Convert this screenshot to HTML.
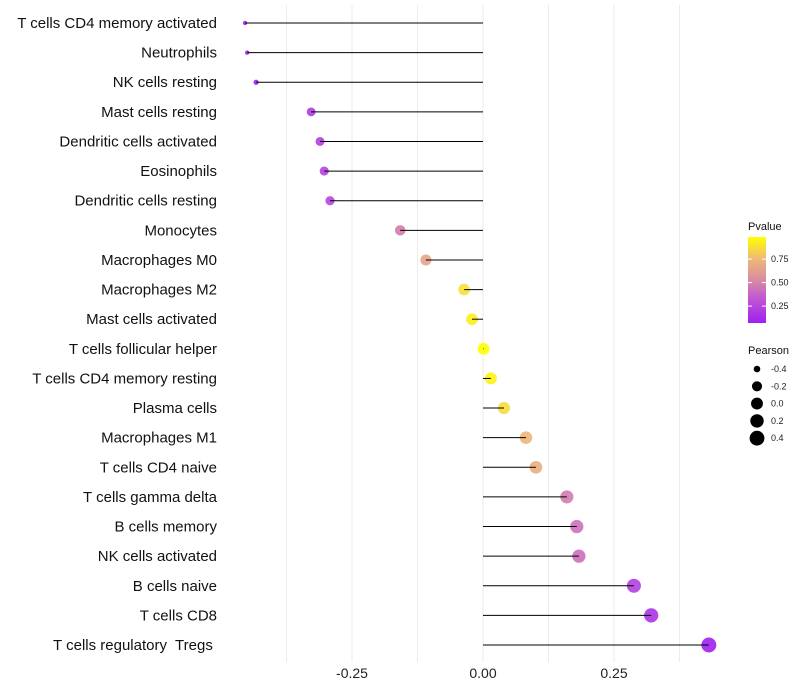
<!DOCTYPE html>
<html><head><meta charset="utf-8"><style>
html,body{margin:0;padding:0;background:#fff;}
svg{display:block;font-family:"Liberation Sans",sans-serif;}
text{white-space:pre;}
</style></head><body>
<svg id="chart" width="800" height="700"></svg>
<script>
const categories=["T cells CD4 memory activated","Neutrophils","NK cells resting","Mast cells resting","Dendritic cells activated","Eosinophils","Dendritic cells resting","Monocytes","Macrophages M0","Macrophages M2","Mast cells activated","T cells follicular helper","T cells CD4 memory resting","Plasma cells","Macrophages M1","T cells CD4 naive","T cells gamma delta","B cells memory","NK cells activated","B cells naive","T cells CD8","T cells regulatory  Tregs "];
const pearson=[-0.454,-0.450,-0.433,-0.328,-0.311,-0.303,-0.292,-0.158,-0.109,-0.036,-0.021,0.001,0.015,0.040,0.082,0.101,0.160,0.179,0.183,0.288,0.321,0.431];
const pvalue=[0.03,0.04,0.06,0.2,0.22,0.23,0.25,0.47,0.65,0.88,0.93,0.99,0.95,0.87,0.74,0.7,0.47,0.43,0.42,0.22,0.16,0.05];
const xTicks=[-0.25,0,0.25];
const xTickLabels=["-0.25","0.00","0.25"];
const pTicks=[0.25,0.5,0.75];
const pTickLabels=["0.25","0.50","0.75"];
const sizeBreaks=[-0.4,-0.2,0,0.2,0.4];
const sizeLabels=["-0.4","-0.2","0.0","0.2","0.4"];

const NS="http://www.w3.org/2000/svg";
const svg=document.getElementById('chart');
function mk(t,a,p){const e=document.createElementNS(NS,t);for(const k in a)e.setAttribute(k,a[k]);(p||svg).appendChild(e);return e;}
const x=v=>483+v*524;
const y=i=>23+i*(622/21);
const pMin=0.07,pMax=0.985;
const stops=[[0,[160,32,240]],[0.3,[194,90,208]],[0.5,[216,140,160]],[0.75,[240,185,118]],[1,[255,255,0]]];
function col(p){let t=Math.max(0,Math.min(1,(p-pMin)/(pMax-pMin)));for(let i=1;i<stops.length;i++){if(t<=stops[i][0]){const a=stops[i-1],b=stops[i],f=(t-a[0])/(b[0]-a[0]);return 'rgb('+a[1].map((c,j)=>Math.round(c+(b[1][j]-c)*f)).join(',')+')';}}return 'rgb(255,255,0)';}
function rad(v){let area=v<-0.33?Math.max(4,16+100*(v+0.33)):16+40*(v+0.33);return 1.1*Math.sqrt(area);}

[-0.375,-0.25,-0.125,0,0.125,0.25,0.375].forEach(v=>{
 const g=mk('line',{x1:x(v),x2:x(v),y1:5,y2:662,stroke:'#ebebeb','stroke-width':1});
 
 
});
xTicks.forEach((v,i)=>{
 const t=mk('text',{x:x(v),y:678,'text-anchor':'middle','font-size':14,fill:'#222'});
 t.textContent=xTickLabels[i];
 
 
});
categories.forEach((c,i)=>{
 const t=mk('text',{x:217,y:y(i)+5,'text-anchor':'end','font-size':15,fill:'#111'});
 t.textContent=c;
 
 
 const d=mk('circle',{cx:x(pearson[i]),cy:y(i),r:rad(pearson[i]),fill:col(pvalue[i]),'fill-opacity':0.9});
 
 
 const l=mk('line',{x1:x(0),x2:x(pearson[i]),y1:y(i),y2:y(i),stroke:'#000','stroke-width':1});
 
 
});
const lg=mk('g',{});


const lt=mk('text',{x:748,y:230,'font-size':11,fill:'#111'},lg);lt.textContent='Pvalue';
const defs=mk('defs',{});
const gr=mk('linearGradient',{id:'pg',x1:0,y1:1,x2:0,y2:0},defs);
stops.forEach(s=>mk('stop',{offset:s[0],'stop-color':'rgb('+s[1].join(',')+')'},gr));
mk('rect',{x:748,y:237,width:18,height:86,fill:'url(#pg)'},lg);
const py=p=>323-(p-pMin)/(pMax-pMin)*86;
pTicks.forEach((p,i)=>{
 mk('line',{x1:748,x2:752,y1:py(p),y2:py(p),stroke:'#fff'},lg);
 mk('line',{x1:762,x2:766,y1:py(p),y2:py(p),stroke:'#fff'},lg);
 const t=mk('text',{x:771,y:py(p)+3,'font-size':9,fill:'#222'},lg);t.textContent=pTickLabels[i];
});
const sg=mk('g',{});


const st=mk('text',{x:748,y:354,'font-size':11,fill:'#111'},sg);st.textContent='Pearson';
sizeBreaks.forEach((v,i)=>{
 const cy=369+i*17.3;
 mk('circle',{cx:757,cy:cy,r:rad(v),fill:'#000'},sg);
 const t=mk('text',{x:771,y:cy+3,'font-size':9,fill:'#222'},sg);t.textContent=sizeLabels[i];
});
</script>
</body></html>
